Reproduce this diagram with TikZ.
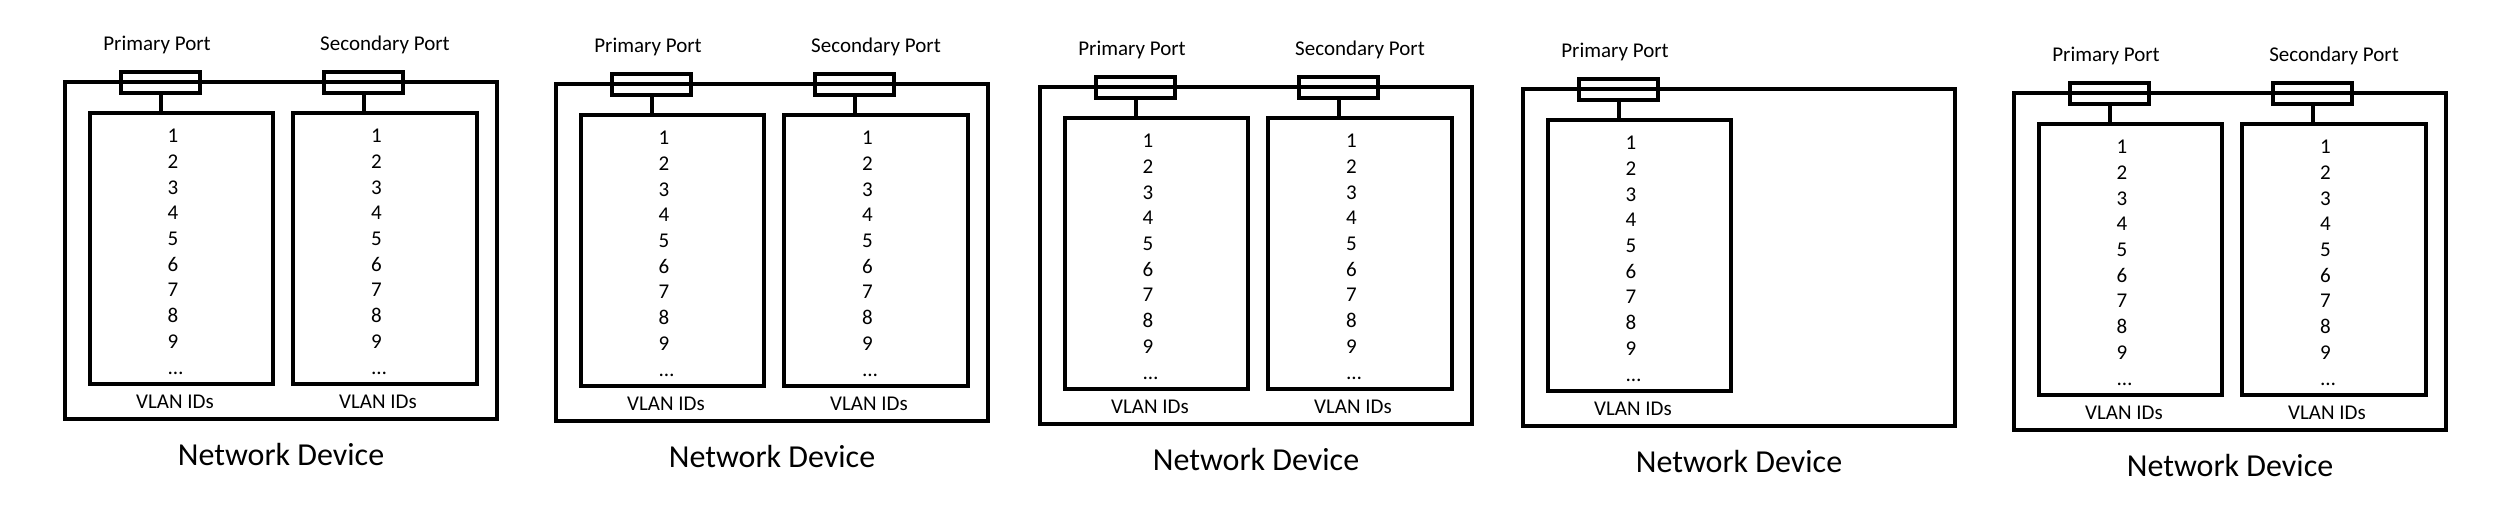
\documentclass[tikz,border=0pt]{standalone}
\usepackage{fontspec}
\setmainfont{Carlito}
\tikzset{
  boxline/.style={draw, line width=4pt, inner sep=0pt, outer sep=0pt},
  outerbox/.style={boxline, minimum width=432pt, minimum height=337pt},
  portbox/.style={boxline, minimum width=79pt, minimum height=21pt},
  vlanbox/.style={boxline, minimum width=183pt, minimum height=271pt},
  smalltxt/.style={inner sep=0pt, anchor=base, font=\fontsize{21}{25}\selectfont},
  bigtxt/.style={inner sep=0pt, anchor=base, font=\fontsize{32}{38}\selectfont},
  stem/.style={line width=4pt}
}
\begin{document}
\begin{tikzpicture}[x=1pt,y=-1pt]
\useasboundingbox (0,0) rectangle (2508,530);
\foreach \i/\ox/\oy/\two in {1/65/82/1, 2/556/84/1, 3/1040/87/1, 4/1523/89/0, 5/2014/93/1} {
  \begin{scope}[shift={(\ox,\oy)}]
    \node[outerbox] (dev\i) at (216,168.5) {};
    \node[portbox] (pp\i) at (95.5,0.5) {};
    \node[vlanbox] (va\i) at (116.5,166.5) {};
    \draw[stem] (pp\i.south) -- (pp\i.south |- va\i.north);
    \node[smalltxt] (lp\i) at (92,-32) {Primary Port};
    \foreach \k in {1,...,9} {
      \node[smalltxt] (na\i-\k) at (108,{60.7+(\k-1)*25.7}) {\k};
    }
    \node[smalltxt] (ea\i) at (110.5,292) {…};
    \node[smalltxt] (vla\i) at (110,326) {VLAN IDs};
    \ifnum\two=1
      \node[portbox] (sp\i) at (298.5,0.5) {};
      \node[vlanbox, minimum width=184pt] (vb\i) at (320,166.5) {};
      \draw[stem] (sp\i.south) -- (sp\i.south |- vb\i.north);
      \node[smalltxt] (ls\i) at (320,-32) {Secondary Port};
      \foreach \k in {1,...,9} {
        \node[smalltxt] (nb\i-\k) at (311.5,{60.7+(\k-1)*25.7}) {\k};
      }
      \node[smalltxt] (eb\i) at (314,292) {…};
      \node[smalltxt] (vlb\i) at (313,326) {VLAN IDs};
    \fi
    \node[bigtxt] (nd\i) at (216,383) {Network Device};
  \end{scope}
}
\end{tikzpicture}
\end{document}
